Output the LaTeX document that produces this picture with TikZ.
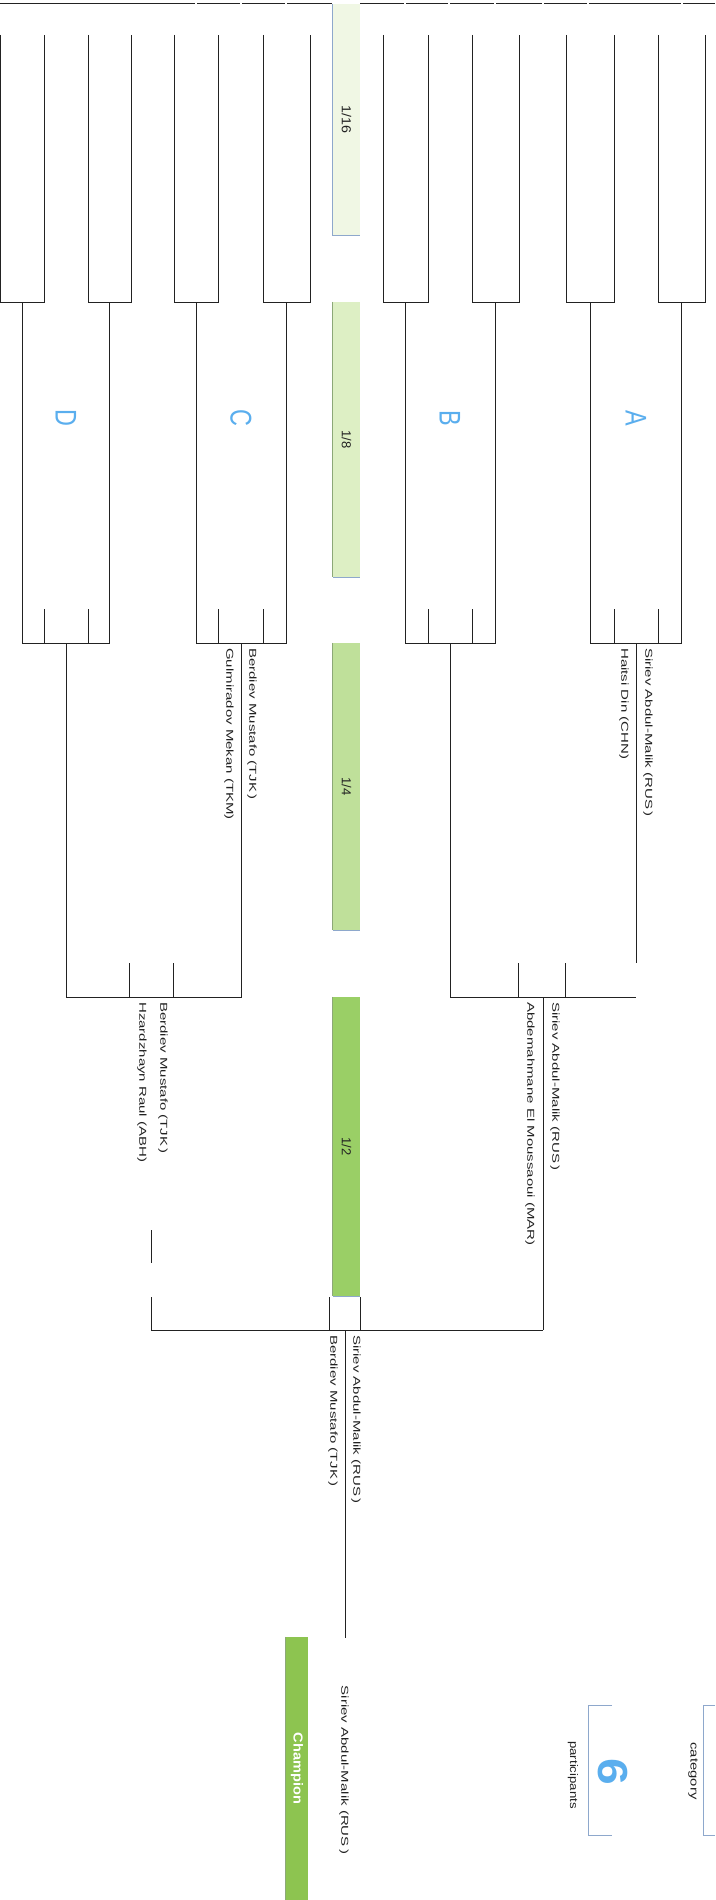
\documentclass[tikz,border=0pt]{standalone}
\usepackage{fontspec}
\setmainfont{Liberation Sans}
\usepackage{graphicx}

\definecolor{inkgray}{HTML}{222222}
\definecolor{strip16}{HTML}{F0F7E4}
\definecolor{strip8}{HTML}{DDEFC4}
\definecolor{strip4}{HTML}{BFE09A}
\definecolor{strip2}{HTML}{9ACF66}
\definecolor{champ}{HTML}{8DC450}
\definecolor{edgegreen}{HTML}{8CA878}
\definecolor{framegray}{HTML}{8EA8CC}
\definecolor{seedblue}{HTML}{5AAEEE}

\newcommand{\stretchname}[1]{\scalebox{1.5}[1]{#1}}

\tikzset{
  bracket/.style={line width=1pt, draw=inkgray},
  fighter/.style={rotate=-90, anchor=west, inner sep=0pt, text=inkgray, font=\fontsize{10}{12}\selectfont},
  roundbar/.style={rotate=-90, inner sep=0pt, minimum height=27pt, text=inkgray, font=\fontsize{13}{15}\selectfont},
  poolmark/.style={rotate=-90, inner sep=0pt, text=seedblue, font=\fontsize{26}{30}\selectfont},
  infotext/.style={rotate=-90, inner sep=0pt, text=inkgray, font=\fontsize{11}{13}\selectfont}
}

\begin{document}
\begin{tikzpicture}[x=1pt, y=-1pt]
    \useasboundingbox (0,0) rectangle (715,1900);
    \fill[white] (0,0) rectangle (715,1900);

    % round strips
    \node[roundbar, fill=strip16, minimum width=231pt] (r16) at (346.5,119.5) {\scalebox{1.1}[1]{1/16}};
    \node[roundbar, fill=strip8, minimum width=275pt] (r8) at (346.5,439.5) {1/8};
    \node[roundbar, fill=strip4, minimum width=287pt] (r4) at (346.5,786.5) {1/4};
    \node[roundbar, fill=strip2, minimum width=299pt] (r2) at (346.5,1146.5) {1/2};
    \node[roundbar, fill=champ, minimum width=263pt, minimum height=22pt, text=white,
          font=\bfseries\fontsize{13}{15}\selectfont] (champbar) at (297,1768.5) {\scalebox{1.12}[1]{Champion}};
    \draw[framegray, line width=0.8pt] (r16.south west) -- (r16.south east) -- (r16.north east);
    \foreach \bar in {r8,r4,r2,champbar}
        \draw[edgegreen, line width=0.8pt] (\bar.south west) -- (\bar.south east);
    \foreach \bar in {r8,r4,r2}
        \draw[framegray, line width=0.6pt] (\bar.south east) -- (\bar.north east);

    % top border
    \foreach \a/\b in {0/195,197/240,242/285,287/332,360/404,406/448,450/494,496/542,544/587,589/681,683/715}
        \draw[bracket] (\a,4) -- (\b,4);

    % 1/16 brackets
    \foreach \xl/\xr in {0.6/44,88/131,174/218,263/310,383/428,472/519,566/614,658/705}
        \draw[bracket] (\xl,35) -- (\xl,302) -- (\xr,302) -- (\xr,35);

    % 1/8 brackets
    \foreach \xl/\xr/\tl/\tr in {22.3/109.5/44/88,196/286.5/218/263,405.5/495.5/428/472,590/681.5/614/658}
    {
        \draw[bracket] (\xl,302) -- (\xl,643) -- (\xr,643) -- (\xr,302);
        \draw[bracket] (\tl,609) -- (\tl,643) (\tr,609) -- (\tr,643);
    }

    % pools
    \node[poolmark] (poolD) at (66,418) {\scalebox{0.9}[1.15]{D}};
    \node[poolmark] (poolC) at (241,418) {\scalebox{0.9}[1.15]{C}};
    \node[poolmark] (poolB) at (450,418) {\scalebox{0.9}[1.15]{B}};
    \node[poolmark] (poolA) at (636,418) {\scalebox{0.9}[1.15]{A}};

    % 1/4 brackets
    \draw[bracket] (66,643) -- (66,997) -- (241,997) -- (241,643);
    \draw[bracket] (129,963) -- (129,997) (173,963) -- (173,997);
    \draw[bracket] (450,643) -- (450,997) -- (636,997);
    \draw[bracket] (636,643) -- (636,963);
    \draw[bracket] (518,963) -- (518,997) (565,963) -- (565,997);

    \node[fighter] (qC1) at (252,648) {\stretchname{Berdiev Mustafo (TJK\,)}};
    \node[fighter] (qC2) at (229,648) {\stretchname{Gulmiradov Mekan (TKM)}};
    \node[fighter] (qA1) at (648,648) {\stretchname{Siriev Abdul-Malik (RUS\,)}};
    \node[fighter] (qA2) at (624,648) {\stretchname{Haitsi Din (CHN)}};

    % 1/2 and final
    \coordinate (semiL) at (151,1330);
    \coordinate (semiR) at (543,1330);
    \coordinate (finalTop) at (345,1330);
    \coordinate (finalEnd) at (345,1638);
    \draw[bracket] (151,1230) -- (151,1263) (151,1297) -- (semiL);
    \draw[bracket] (543,997) -- (semiR);
    \draw[bracket] (semiL) -- (semiR);
    \draw[bracket] (329,1297) -- (329,1330) (360,1297) -- (360,1330);
    \draw[bracket] (finalTop) -- (finalEnd);

    \node[fighter] (sL1) at (163,1002) {\stretchname{Berdiev Mustafo (TJK\,)}};
    \node[fighter] (sL2) at (142,1002) {\stretchname{Hzardzhayn Raul (ABH)}};
    \node[fighter] (sR1) at (555,1002) {\stretchname{Siriev Abdul-Malik (RUS\,)}};
    \node[fighter] (sR2) at (530,1002) {\stretchname{Abdemahmane El Moussaoui (MAR)}};
    \node[fighter] (f1) at (356,1335) {\stretchname{Siriev Abdul-Malik (RUS\,)}};
    \node[fighter] (f2) at (333,1335) {\stretchname{Berdiev Mustafo (TJK\,)}};
    \node[fighter, anchor=center] (winner) at (344,1770) {\stretchname{Siriev Abdul-Malik (RUS\,)}};

    % info boxes
    \draw[framegray, line width=0.8pt] (612,1705) -- (588,1705) -- (588,1835) -- (612,1835);
    \draw[framegray, line width=0.8pt] (715,1705) -- (703,1705) -- (703,1835) -- (715,1835);
    \node[infotext] (partlabel) at (573,1775) {\scalebox{1.2}[1]{participants}};
    \node[rotate=-90, inner sep=0pt, text=seedblue, font=\bfseries\fontsize{40}{44}\selectfont] (partnum) at (613,1772) {\scalebox{1.2}[1.05]{6}};
    \node[infotext] (catlabel) at (693,1771) {\scalebox{1.35}[1]{category}};
\end{tikzpicture}
\end{document}
